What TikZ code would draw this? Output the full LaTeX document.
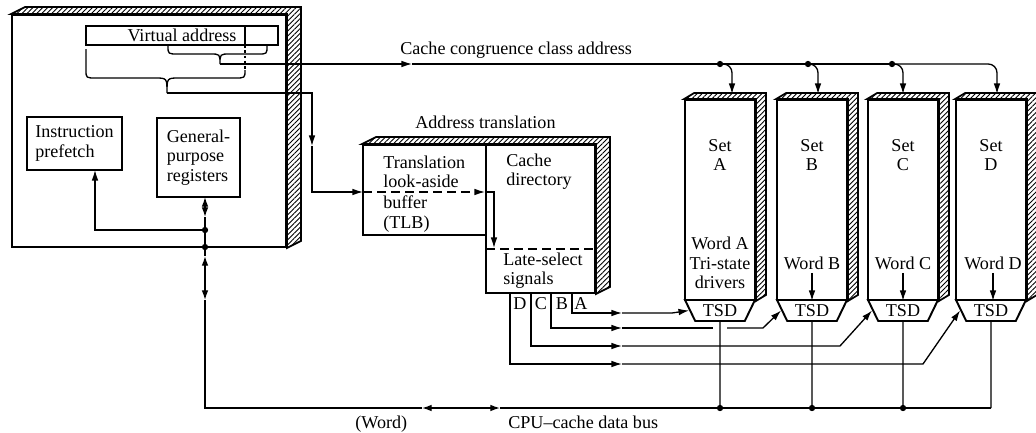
\documentclass[tikz,border=0pt]{standalone}
\usepackage{fontspec}
\setmainfont{Liberation Serif}
\usetikzlibrary{positioning,arrows.meta,shapes.geometric,calc,patterns.meta}

% hatched top and side of a slab: #1 left node, #2 right node, #3/#4 depth shift
\newcommand{\hatchbox}[4]{%
  \filldraw[hatch] (#1.north west) -- ++(#3,#4) -- ($(#2.north east)+(#3,#4)$)
    -- ($(#2.south east)+(#3,#4)$) -- (#2.south east) -- (#2.north east) -- cycle;}

\begin{document}
\begin{tikzpicture}[
  x=0.02cm, y=-0.02cm,
  font=\fontsize{10.3}{11}\selectfont,
  line/.style={-{Latex[length=6pt,width=3.8pt]}, line width=0.75pt, draw=black},
  both/.style={{Latex[length=5.5pt,width=3.8pt]}-{Latex[length=5.5pt,width=3.8pt]}, line width=0.75pt},
  link/.style={line width=0.75pt, draw=black},
  box/.style={draw=black, fill=white, line width=1.1pt, inner sep=0pt, align=left},
  setbox/.style={box, minimum width=1.4cm, minimum height=4cm},
  tsd/.style={trapezium, shape border rotate=180, trapezium angle=60, trapezium stretches=true, draw=black, fill=white, line width=1.1pt, minimum width=1.4cm, minimum height=0.42cm, inner sep=0pt},
  hatch/.style={line width=1pt, pattern={Lines[angle=45,distance=2pt,line width=0.5pt]}, pattern color=black},
  lab/.style={inner sep=0pt, align=center}
]
\useasboundingbox (0,0) rectangle (1036,433);

% CPU
\node[box, minimum width=5.48cm, minimum height=4.64cm] (cpu) at (149,131) {};
\hatchbox{cpu}{cpu}{14}{-7}
\node[box, line width=0.8pt, minimum width=3.84cm, minimum height=0.38cm, align=center] (va) at (182,35.5) {Virtual address};
\draw[line width=0.8pt] (245,26) -- (245,45);
\node[box, minimum width=1.9cm, minimum height=1.06cm] (ip) at (74.5,143.5) {Instruction\\prefetch};
\node[box, minimum width=1.66cm, minimum height=1.58cm] (gpr) at (198.5,157.5) {General-\\purpose\\registers};

% address fields
\coordinate (ct) at (220,64);
\coordinate (bt) at (167,93);
\draw[link] (168,46) .. controls (168,54) .. (178,54) -- (210,54) .. controls (220,54) .. (ct)
  .. controls (220,54) .. (230,54) -- (258,54) .. controls (267,54) .. (267,46);
\draw[link] (86,49) -- (86,70) .. controls (86,78) .. (96,78) -- (155,78) .. controls (167,78) .. (bt)
  .. controls (167,78) .. (179,78) -- (235,78) .. controls (245,78) .. (245,70);
\draw[link, dash pattern=on 1.5pt off 1.5pt] (245,45) -- (245,70);

% Address translation
\node[box, minimum width=2.46cm, minimum height=1.8cm] (tlb) at (424.5,190) {};
\node[box, minimum width=2.18cm, minimum height=2.96cm] (cdir) at (540.5,219) {};
\hatchbox{tlb}{cdir}{14}{-7}
\draw[line width=0.8pt, dash pattern=on 5pt off 3pt] (486,249) -- (595,249);
\node[lab, anchor=base west] (attext) at (415,128) {Address translation};
\node[lab, anchor=west, align=left] (tlbtop) at (383,172) {Translation\\look-aside};
\node[lab, anchor=west, align=left] (tlbbot) at (383,214) {buffer\\(TLB)};
\node[lab, anchor=west, align=left] (cdirtext) at (506,172) {Cache\\directory};
\node[lab, anchor=west, align=left] (lstext) at (503,271) {Late-select\\signals};

% Sets
\foreach \s/\x in {A/720,B/812,C/903,D/991} {
  \node[setbox] (set\s) at (\x,200) {};
  \hatchbox{set\s}{set\s}{10}{-6}
  \node[tsd] (tsd\s) at (\x,310.5) {TSD};
  \node[lab] (name\s) at (\x,155) {Set\\\s};
  \coordinate (b\s) at (\x,408);
  \draw[link] (tsd\s.south) -- (b\s);
}
\node[lab] (wordA) at (720,263) {Word A\\Tri-state\\drivers};
\foreach \s/\x in {B/812,C/903,D/993} {
  \node[lab] (word\s) at (\x,263) {Word \s};
  \draw[line] (word\s.south) ++(0,3) -- (set\s.south -| word\s.south);
}

% Cache congruence class address
\coordinate (cga) at (412,64);
\coordinate (cgA) at (720,64);
\coordinate (cgB) at (808,64);
\coordinate (cgC) at (892,64);
\draw[line] (ct) -- (cga);
\draw[link] (cga) -- (cgC);
\foreach \s/\x/\c in {A/732/cgA,B/818/cgB,C/903/cgC,D/997/cgC}
  \draw[line, rounded corners=5pt] (\c) -| (\x,94);
\foreach \c in {cgA,cgB,cgC} \fill (\c) circle (1.8pt);
\node[lab, anchor=base west] (cgtext) at (400,54) {Cache congruence class address};

% virtual address into TLB
\coordinate (at1) at (312,93);
\coordinate (at2) at (312,146);
\coordinate (at3) at (312,192);
\coordinate (tlbin) at (363,192);
\coordinate (tl1) at (485,192);
\coordinate (ls) at (494,248);
\draw[line] (bt) -- (at1) -- (at2);
\draw[line] (at2) -- (at3) -- (tlbin);
\draw[line, dash pattern=on 5pt off 3pt] (tlbin) -- (tl1);
\draw[line] (tl1) -| (ls);

% late-select lines
\foreach \s/\x/\y/\k in {A/572/313/672,B/551/328/763,C/531/346/840,D/510/364/923} {
  \coordinate (s\s) at (\x,293);
  \coordinate (m\s) at (622,\y);
  \coordinate (k\s) at (\k,\y);
  \draw[line] (s\s) |- (m\s);
}
\draw[line] (mA) -- (kA) -- (tsdA.west);
\draw[link] (mB) -- (713,328);
\draw[line] (727,328) -- (kB) -- (tsdB.west);
\draw[line] (mC) -- (kC) -- (tsdC.west);
\draw[line] (mD) -- (kD) -- (tsdD.west);
\node[lab] (ltD) at (520,304) {D};
\node[lab] (ltC) at (541,304) {C};
\node[lab] (ltB) at (562,304) {B};
\node[lab] (ltA) at (581,304) {A};

% CPU side of the data bus
\coordinate (j1) at (205,230);
\coordinate (j2) at (205,247);
\coordinate (gp) at (205,197);
\coordinate (gq) at (205,217);
\coordinate (ipin) at (95,170);
\coordinate (cb1) at (205,256);
\coordinate (cb2) at (205,300);
\coordinate (bl) at (205,408);
\coordinate (bw1) at (422,408);
\coordinate (bw2) at (500,408);
\draw[both] (gp) -- (gq);
\draw[link] (gq) -- (j1) -- (j2) -- (cb1);
\draw[line] (j1) -| (ipin);
\draw[both] (cb1) -- (cb2);
\draw[link] (cb2) -- (bl) -- (bw1);
\draw[both] (bw1) -- (bw2);
\draw[link] (bw2) -- (bA) -- (bB) -- (bC) -- (bD);
\foreach \c in {j1,j2,bA,bB,bC} \fill (\c) circle (1.8pt);
\node[lab, anchor=base west] (wordtext) at (355,428) {(Word)};
\node[lab, anchor=base west] (bustext) at (508,428) {CPU--cache data bus};
\end{tikzpicture}
\end{document}
